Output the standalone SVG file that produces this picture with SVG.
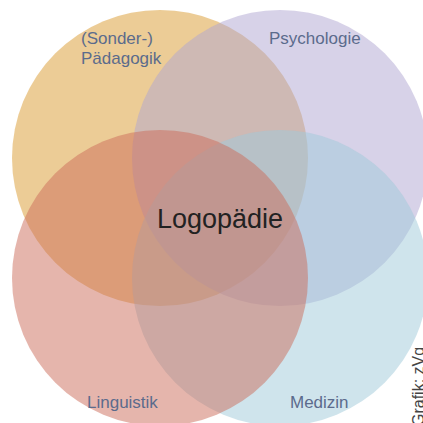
<svg xmlns="http://www.w3.org/2000/svg" width="423" height="423" viewBox="0 0 423 423">
<style>
.c{opacity:0.5}
.lbl{font-family:"Liberation Sans",Arial,sans-serif;font-size:17px;fill:#5b6b8c}
.main{font-family:"Liberation Sans",Arial,sans-serif;font-size:27px;fill:#222222}
.credit{font-family:"Liberation Sans",Arial,sans-serif;font-size:16px;fill:#444444}
</style>
<rect width="423" height="423" fill="#ffffff"/>
<g id="paedagogik"><circle class="c" cx="160" cy="158" r="148" fill="#d9992d"/></g>
<g id="psychologie"><circle class="c" cx="280" cy="158" r="148" fill="#afa5d1"/></g>
<g id="medizin"><circle class="c" cx="280" cy="278" r="148" fill="#9fc9d9"/></g>
<g id="linguistik"><circle class="c" cx="160" cy="278" r="148" fill="#cb6b59"/></g>
<g id="connectors"></g>
<g id="labels">
<text class="lbl" x="81" y="44">(Sonder-)</text>
<text class="lbl" x="81" y="64">Pädagogik</text>
<text class="lbl" x="269" y="44">Psychologie</text>
<text class="lbl" x="87" y="408">Linguistik</text>
<text class="lbl" x="290" y="408">Medizin</text>
<text class="main" x="220" y="228" text-anchor="middle">Logopädie</text>
<text class="credit" transform="translate(424,426) rotate(-90)">Grafik: zVg</text>
</g>
</svg>
